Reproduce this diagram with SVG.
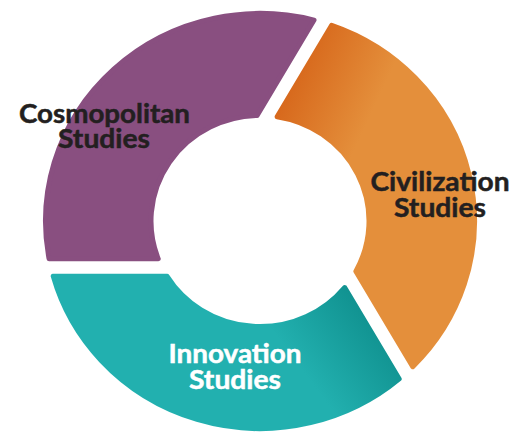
<svg xmlns="http://www.w3.org/2000/svg" width="513" height="432" viewBox="0 0 513 432">
  <style>
    .seg { stroke-width: 5; stroke-linejoin: round; }
    .lbl { font-family: Lato, "Noto Sans", "Liberation Sans", sans-serif; font-weight: bold; font-size: 27px; text-anchor: middle; stroke-width: 0.5; }
    .dark { fill: #231f20; stroke: #231f20; }
    .light { fill: #ffffff; stroke: #ffffff; }
  </style>
  <defs>
    <linearGradient id="gOrange" gradientUnits="userSpaceOnUse" x1="40" y1="-166" x2="120" y2="-130">
      <stop offset="0" stop-color="#d7681c"/>
      <stop offset="1" stop-color="#e48f3b"/>
    </linearGradient>
    <linearGradient id="gTeal" gradientUnits="userSpaceOnUse" x1="140" y1="100" x2="50" y2="165">
      <stop offset="0" stop-color="#0c8a88"/>
      <stop offset="1" stop-color="#22b0af"/>
    </linearGradient>
  </defs>
  <rect width="513" height="432" fill="#ffffff"/>
  <g id="connectors"></g>
  <g id="cosmopolitan">
    <path class="seg" transform="translate(260 221) scale(1 0.968)" fill="#894f80" stroke="#894f80"
      d="M -210.92 39 A 214.5 214.5 0 0 1 54.04 -207.58 L -2.91 -108.96 A 109 109 0 0 0 -101.78 39 Z"/>
    <text class="lbl dark" x="104.5" y="122.7" textLength="171" lengthAdjust="spacingAndGlyphs">Cosmopolitan</text>
    <text class="lbl dark" x="104" y="148.3" textLength="92" lengthAdjust="spacingAndGlyphs">Studies</text>
  </g>
  <g id="civilization">
    <path class="seg" transform="translate(260 221) scale(1 0.968)" fill="url(#gOrange)" stroke="url(#gOrange)"
      d="M 71.69 -202.16 A 214.5 214.5 0 0 1 152.76 150.58 L 95.82 51.96 A 109 109 0 0 0 17.12 -107.64 Z"/>
    <text class="lbl dark" x="440" y="190.7" textLength="139" lengthAdjust="spacingAndGlyphs">Civilization</text>
    <text class="lbl dark" x="440" y="216.7" textLength="92" lengthAdjust="spacingAndGlyphs">Studies</text>
  </g>
  <g id="innovation">
    <path class="seg" transform="translate(260 221) scale(1 0.968)" fill="url(#gTeal)" stroke="url(#gTeal)"
      d="M 139.23 163.16 A 214.5 214.5 0 0 1 -206.79 57 L -92.91 57 A 109 109 0 0 0 84.66 68.64 Z"/>
    <text class="lbl light" x="235" y="363.3" textLength="133" lengthAdjust="spacingAndGlyphs">Innovation</text>
    <text class="lbl light" x="235" y="389.3" textLength="92" lengthAdjust="spacingAndGlyphs">Studies</text>
  </g>
</svg>
